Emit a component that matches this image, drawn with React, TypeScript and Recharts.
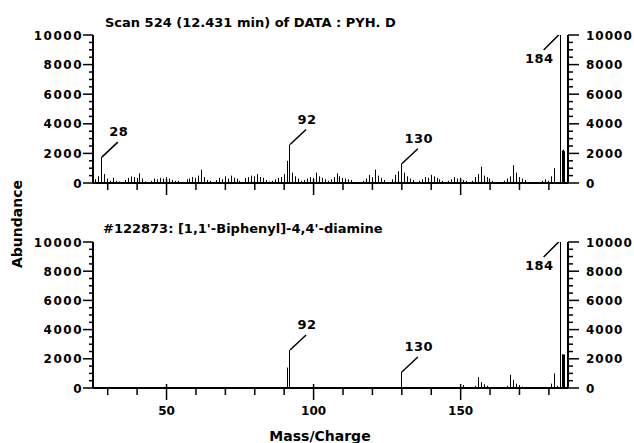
import { ComposedChart, Bar, Scatter, XAxis, YAxis } from 'recharts'

const FONT = '"DejaVu Sans", sans-serif'

// scan 524 (12.431 min) – m/z and abundance
const SCAN_MZ = [
  26, 27, 28, 29, 30, 31, 32, 33, 34, 36, 37, 38, 39, 40, 41, 42, 43, 45, 46, 47,
  48, 49, 50, 51, 52, 53, 54, 57, 58, 59, 60, 61, 62, 63, 64, 65, 67, 68, 69, 70,
  71, 72, 73, 74, 75, 77, 78, 79, 80, 81, 82, 83, 84, 85, 86, 87, 88, 89, 90, 91,
  92, 93, 94, 95, 96, 97, 98, 99, 100, 101, 102, 103, 104, 105, 106, 107, 108, 109, 110, 111,
  112, 113, 117, 118, 119, 120, 121, 122, 123, 124, 127, 128, 129, 130, 131, 132, 133, 134, 136, 137,
  138, 139, 140, 141, 142, 143, 144, 146, 147, 148, 149, 150, 151, 152, 154, 155, 156, 157, 158, 159,
  160, 161, 165, 166, 167, 168, 169, 170, 171, 172, 178, 179, 180, 181, 182, 184, 184.6, 185, 185.4,
]
const SCAN_AB = [
  250, 450, 1750, 600, 300, 150, 350, 150, 100, 200, 350, 450, 400, 350, 650, 300, 100, 150, 300, 250,
  350, 300, 400, 300, 200, 150, 150, 250, 300, 400, 350, 500, 900, 400, 200, 150, 200, 350, 250, 450,
  300, 500, 350, 300, 150, 350, 400, 500, 450, 600, 400, 350, 200, 100, 150, 250, 350, 400, 600, 1500,
  2600, 700, 450, 300, 150, 200, 300, 400, 350, 700, 450, 350, 250, 150, 250, 400, 650, 450, 350, 300,
  250, 200, 150, 300, 550, 400, 900, 500, 350, 200, 250, 550, 800, 1300, 700, 450, 300, 200, 150, 250,
  400, 350, 550, 450, 350, 250, 150, 150, 250, 400, 300, 350, 200, 150, 150, 400, 600, 1100, 500, 400,
  300, 150, 150, 300, 450, 1200, 700, 400, 300, 200, 150, 250, 150, 450, 1000, 10000, 2200, 2250, 2150,
]
const SCAN_TAGS = [28, 92, 130, 184]

// library entry #122873 – benzidine
const LIB_MZ = [
  91, 92, 130, 151, 155, 156, 157, 158, 159, 166, 167, 168, 169, 170, 171, 181, 182, 183, 184, 184.6,
  185, 185.4,
]
const LIB_AB = [
  1400, 2600, 1100, 200, 150, 750, 400, 250, 150, 150, 900, 550, 300, 200, 100, 300, 1000, 150, 10000, 2300,
  2300, 2300,
]
const LIB_TAGS = [92, 130, 184]

const Y_TICKS = [
  0, 500, 1000, 1500, 2000, 2500, 3000, 3500, 4000, 4500, 5000,
  5500, 6000, 6500, 7000, 7500, 8000, 8500, 9000, 9500, 10000,
]
const X_TICKS = [30, 40, 50, 60, 70, 80, 90, 100, 110, 120, 130, 140, 150, 160, 170, 180]
const X_LABELS = [50, 100, 150]
const X_DOMAIN = [25, 186.5]

const toRows = (mz: number[], ab: number[]) => mz.map((m, i) => ({ mz: m, ab: ab[i] }))
const toTags = (tags: number[], mz: number[], ab: number[]) =>
  tags.map(t => ({ mz: t, ab: ab[mz.indexOf(t)] }))

const Stick = ({ x, y, width, height }: any) => {
  if (!height || height <= 0) return null
  return <rect x={Math.floor(x + width / 2)} y={y} width={1} height={height} fill='#000' />
}

const PeakTag = ({ cx, cy, payload }: any) => {
  const txt = { fontFamily: FONT, fontSize: 13, fontWeight: 700, letterSpacing: 0.5, fill: '#000' }
  if (payload.ab >= 9000) {
    return (
      <g>
        <line x1={cx} y1={cy - 2} x2={cx - 17} y2={cy + 15} stroke='#000' strokeWidth={1.5} />
        <text x={cx - 7} y={cy + 28} textAnchor='end' style={txt}>{payload.mz}</text>
      </g>
    )
  }
  return (
    <g>
      <line x1={cx} y1={cy} x2={cx + 16} y2={cy - 15} stroke='#000' strokeWidth={1.5} />
      <text x={cx + 17} y={cy - 21} textAnchor='middle' style={txt}>{payload.mz}</text>
    </g>
  )
}

const tickText = { fontFamily: FONT, fontSize: 12, fontWeight: 700, fill: '#000' }

const LeftTick = ({ x, y, payload }: any) => {
  const major = payload.value % 2000 === 0
  return (
    <g>
      <line x1={x} x2={x - (major ? 10 : 4)} y1={y} y2={y} stroke='#000' strokeWidth={1.5} />
      {major && (
        <text x={x - 10} y={y + 4.5} textAnchor='end' style={{ ...tickText, letterSpacing: 1.5 }}>
          {payload.value}
        </text>
      )}
    </g>
  )
}

const RightTick = ({ x, y, payload }: any) => {
  const major = payload.value % 2000 === 0
  return (
    <g>
      <line x1={x} x2={x + (major ? 11 : 5)} y1={y} y2={y} stroke='#000' strokeWidth={1.5} />
      {major && (
        <text x={x + 18} y={y + 4.5} textAnchor='start' style={{ ...tickText, letterSpacing: 1 }}>
          {payload.value}
        </text>
      )}
    </g>
  )
}

const XTick = ({ x, y, payload, labels }: any) => {
  const major = X_LABELS.includes(payload.value)
  return (
    <g>
      <line x1={x} x2={x} y1={major ? y - 4 : y} y2={y + (major ? 12 : 7)} stroke='#000' strokeWidth={1.5} />
      {labels && major && (
        <text x={x} y={y + 27} textAnchor='middle' style={tickText}>{payload.value}</text>
      )}
    </g>
  )
}

const Nothing = () => null

function Spectrum({ rows, tags, labels, height, top, xh }: any) {
  const axis = { stroke: '#000', strokeWidth: 2 }
  return (
    <ComposedChart width={634} height={height} data={rows} margin={{ top, right: 6, bottom: 0, left: 13 }}>
      <XAxis
        dataKey='mz'
        type='number'
        domain={X_DOMAIN}
        allowDataOverflow
        ticks={X_TICKS}
        interval={0}
        tick={<XTick labels={labels} />}
        tickLine={false}
        tickSize={0}
        tickMargin={0}
        axisLine={axis}
        height={xh}
      />
      <YAxis
        yAxisId='l'
        domain={[0, 10000]}
        allowDataOverflow
        ticks={Y_TICKS}
        interval={0}
        tick={<LeftTick />}
        tickLine={false}
        tickSize={0}
        tickMargin={0}
        axisLine={axis}
        width={80}
      />
      <YAxis
        yAxisId='r'
        orientation='right'
        domain={[0, 10000]}
        allowDataOverflow
        ticks={Y_TICKS}
        interval={0}
        tick={<RightTick />}
        tickLine={false}
        tickSize={0}
        tickMargin={0}
        axisLine={axis}
        width={60}
      />
      <Bar yAxisId='l' dataKey='ab' barSize={1} shape={<Stick />} isAnimationActive={false} />
      <Scatter yAxisId='l' data={tags} dataKey='ab' shape={<PeakTag />} isAnimationActive={false} />
      <Scatter yAxisId='r' data={tags} dataKey='ab' shape={<Nothing />} isAnimationActive={false} />
    </ComposedChart>
  )
}

export default function App() {
  const title = { fontFamily: FONT, fontSize: 13, fontWeight: 700, fill: '#000' }
  const axisTitle = { fontFamily: FONT, fontSize: 14, fontWeight: 700, fill: '#000' }
  return (
    <div style={{ position: 'relative', width: 634, height: 443, background: '#fff' }}>
      <style>{'body{margin:0}'}</style>
      <div style={{ position: 'absolute', left: 0, top: 0 }}>
        <Spectrum
          rows={toRows(SCAN_MZ, SCAN_AB)}
          tags={toTags(SCAN_TAGS, SCAN_MZ, SCAN_AB)}
          labels={false}
          height={200}
          top={35}
          xh={17}
        />
      </div>
      <div style={{ position: 'absolute', left: 0, top: 200 }}>
        <Spectrum
          rows={toRows(LIB_MZ, LIB_AB)}
          tags={toTags(LIB_TAGS, LIB_MZ, LIB_AB)}
          labels
          height={243}
          top={42}
          xh={55}
        />
      </div>
      <svg width={634} height={443} style={{ position: 'absolute', left: 0, top: 0, pointerEvents: 'none' }}>
        <text x={105} y={27} style={title}>Scan 524 (12.431 min) of DATA : PYH. D</text>
        <text x={103} y={233} style={title}>#122873: [1,1'-Biphenyl]-4,4'-diamine</text>
        <text x={320} y={441} textAnchor='middle' style={axisTitle}>Mass/Charge</text>
        <text transform='translate(22,224) rotate(-90)' textAnchor='middle' style={axisTitle}>Abundance</text>
      </svg>
    </div>
  )
}
